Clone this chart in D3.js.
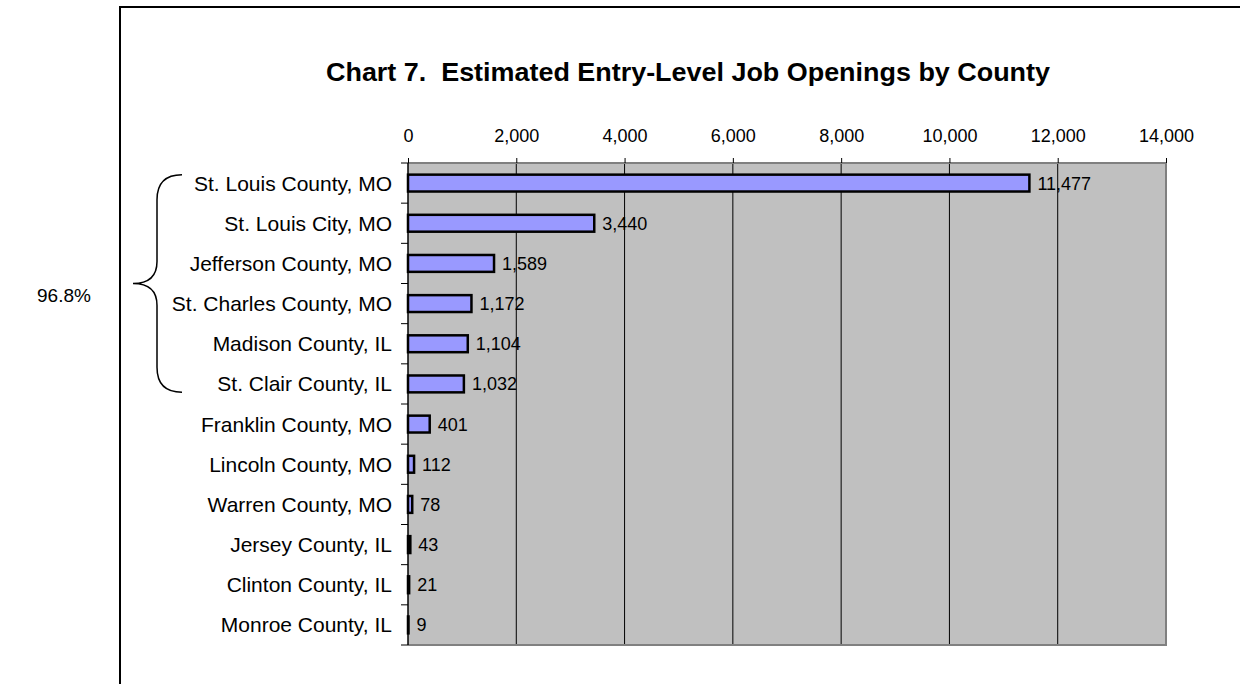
<!DOCTYPE html>
<html>
<head>
<meta charset="utf-8">
<script src="https://cdn.jsdelivr.net/npm/d3@7"></script>
<style>
  body { margin: 0; background: #fff; }
  text { font-family: "Liberation Sans", Arial, sans-serif; fill: #000; }
</style>
</head>
<body>
<div id="chart"></div>
<script>
// data
const counties = ["St. Louis County, MO", "St. Louis City, MO", "Jefferson County, MO",
                  "St. Charles County, MO", "Madison County, IL", "St. Clair County, IL",
                  "Franklin County, MO", "Lincoln County, MO", "Warren County, MO",
                  "Jersey County, IL", "Clinton County, IL", "Monroe County, IL"];
const openings = [11477, 3440, 1589, 1172, 1104, 1032, 401, 112, 78, 43, 21, 9];
const xTicks = [0, 2000, 4000, 6000, 8000, 10000, 12000, 14000];
const braceCount = 6;          // first six counties grouped by the brace
const braceLabel = "96.8%";
const title = "Chart 7.  Estimated Entry-Level Job Openings by County";

const WIDTH = 1240, HEIGHT = 684;
const PLOT = { left: 408, right: 1166, top: 163, bottom: 645 };

const svg = d3.select("#chart").append("svg")
  .attr("width", WIDTH).attr("height", HEIGHT);

// outer frame (runs off the right and bottom)
svg.append("rect")
  .attr("x", 120).attr("y", 7)
  .attr("width", 1200).attr("height", 760)
  .attr("fill", "none").attr("stroke", "#000").attr("stroke-width", 2);

svg.append("text")
  .attr("x", 688).attr("y", 81)
  .attr("text-anchor", "middle")
  .attr("textLength", 724).attr("lengthAdjust", "spacingAndGlyphs")
  .style("font-size", "25px").style("font-weight", "bold")
  .style("white-space", "pre")
  .text(title);

const x = d3.scaleLinear().domain([0, 14000]).range([PLOT.left, PLOT.right]);
const y = d3.scaleBand().domain(counties)
  .range([PLOT.top, PLOT.bottom])
  .paddingInner(0.58).paddingOuter(0.29);

// plot background
svg.append("rect")
  .attr("x", PLOT.left).attr("y", PLOT.top)
  .attr("width", PLOT.right - PLOT.left).attr("height", PLOT.bottom - PLOT.top)
  .attr("fill", "#c0c0c0");

// gridlines
svg.append("g").selectAll("line")
  .data(xTicks.slice(1, -1))
  .enter().append("line")
    .attr("x1", d => x(d)).attr("x2", d => x(d))
    .attr("y1", PLOT.top).attr("y2", PLOT.bottom)
    .attr("stroke", "#000").attr("stroke-width", 1);

// plot border: grey top, right, bottom
svg.append("path")
  .attr("d", `M${PLOT.left},${PLOT.top}H${PLOT.right}V${PLOT.bottom}H${PLOT.left}`)
  .attr("fill", "none").attr("stroke", "#808080").attr("stroke-width", 2);

// top axis
const xAxis = svg.append("g")
  .attr("transform", `translate(0,${PLOT.top})`)
  .call(d3.axisTop(x).tickValues(xTicks).tickSize(5).tickPadding(16)
        .tickFormat(d3.format(",")));
xAxis.select(".domain").remove();
xAxis.selectAll(".tick line").attr("stroke", "#000");
xAxis.selectAll(".tick text")
  .style("font-size", "18px")
  .style("font-family", "'Liberation Sans', Arial, sans-serif");

// left axis: line + ticks at category boundaries
const step = y.step();
const boundaries = d3.range(counties.length + 1).map(i => PLOT.top + i * step);
svg.append("g").selectAll("line")
  .data(boundaries)
  .enter().append("line")
    .attr("x1", PLOT.left - 7).attr("x2", PLOT.left)
    .attr("y1", d => d).attr("y2", d => d)
    .attr("stroke", "#000");
svg.append("line")
  .attr("x1", PLOT.left).attr("x2", PLOT.left)
  .attr("y1", PLOT.top).attr("y2", PLOT.bottom)
  .attr("stroke", "#000").attr("stroke-width", 1.5);

// category labels
svg.append("g").selectAll("text")
  .data(counties)
  .enter().append("text")
    .attr("x", PLOT.left - 16)
    .attr("y", d => y(d) + y.bandwidth() / 2)
    .attr("dy", "0.36em")
    .attr("text-anchor", "end")
    .style("font-size", "21px")
    .text(d => d);

// bars
svg.append("g").selectAll("rect")
  .data(openings)
  .enter().append("rect")
    .attr("x", x(0))
    .attr("y", (d, i) => y(counties[i]))
    .attr("width", d => x(d) - x(0))
    .attr("height", y.bandwidth())
    .attr("fill", "#9999ff")
    .attr("stroke", "#000").attr("stroke-width", 2.5);

// value labels
svg.append("g").selectAll("text")
  .data(openings)
  .enter().append("text")
    .attr("x", d => x(d) + 8)
    .attr("y", (d, i) => y(counties[i]) + y.bandwidth() / 2)
    .attr("dy", "0.36em")
    .style("font-size", "18px")
    .text(d3.format(","));

// brace around the first six counties
const bTop = y(counties[0]);
const bBot = y(counties[braceCount - 1]) + y.bandwidth();
const bMid = (bTop + bBot) / 2;
const bx = 157, tip = 133, end = 182;
svg.append("path")
  .attr("d", `M${end},${bTop} Q${bx},${bTop} ${bx},${bTop + 25}
              V${bMid - 22} Q${bx},${bMid} ${tip},${bMid}
              Q${bx},${bMid} ${bx},${bMid + 22}
              V${bBot - 25} Q${bx},${bBot} ${end},${bBot}`)
  .attr("fill", "none").attr("stroke", "#000").attr("stroke-width", 1.5);

svg.append("text")
  .attr("x", 37).attr("y", bMid + 12)
  .attr("dy", "0.36em")
  .style("font-size", "19px")
  .text(braceLabel);
</script>
</body>
</html>
